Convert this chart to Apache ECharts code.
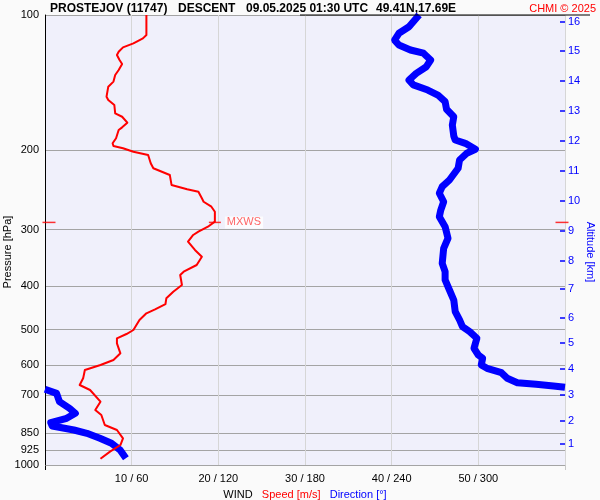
<!DOCTYPE html>
<html><head><meta charset="utf-8">
<script src="https://cdn.jsdelivr.net/npm/echarts@6/dist/echarts.min.js"></script>
<style>html,body{margin:0;padding:0;background:#fafafa}#c{width:600px;height:500px}</style>
</head><body><div id="c"></div>
<script>
const FONT = '"Liberation Sans", Arial, sans-serif';

// Axis ticks
const pressureTicks = [100, 200, 300, 400, 500, 600, 700, 850, 925, 1000];
const altitudeKm = [1, 2, 3, 4, 5, 6, 7, 8, 9, 10, 11, 12, 13, 14, 15, 16];
const altitudePressure = [898, 798, 699, 612, 536, 471, 406, 352, 302, 259, 222, 190.5, 163.4, 140.1, 120.2, 103.5];

// Wind speed profile [m/s] vs pressure [hPa]
const speedPressure = [100,110.8,112.7,115.6,118.0,120.7,122.7,125.9,128.5,132.5,135.9,140.6,144.3,151.9,154.5,158.5,165.4,168.3,173.5,177.7,180.1,187.9,192.8,195.5,197.8,201.3,204.7,213.6,219.1,226.7,238.6,243.9,247.0,255.5,260.0,266.7,273.6,287.9,295.4,303.0,308.2,318.9,332.8,344.4,359.4,371.9,378.3,398.1,412.0,426.2,438.8,450.8,460.1,476.1,501.2,511.6,522.9,536.5,564.7,584.3,599.5,615.0,641.8,664.1,681.3,723.2,754.6,774.3,814.9,836.0,872.4,902.8,934.1,968.3];
const speedValues = [11.7,11.7,11.3,10.2,9.0,8.5,8.3,8.6,8.9,8.5,8.1,7.9,7.3,7.1,7.3,8.0,8.1,8.9,9.5,8.9,8.5,8.2,7.8,7.9,9.0,10.2,11.9,12.2,12.5,14.4,14.6,16.4,17.7,18.1,18.3,19.2,19.6,19.6,18.8,17.7,17.1,16.5,17.3,18.1,17.5,16.0,15.6,15.8,14.8,14.0,13.9,12.7,11.7,10.9,10.2,9.4,8.3,8.3,8.7,7.9,6.4,4.6,4.4,4.0,5.2,6.4,5.8,6.5,6.9,8.3,9.0,8.7,7.5,6.4];

// Wind direction profile [deg] vs pressure [hPa]
const dirPressure = [100,102.6,106.2,109.8,113.7,116.6,119.6,121.6,125.9,130.3,134.8,139.5,143.0,146.8,150.6,155.8,162.0,168.3,175.6,185.7,189.6,192.8,198.8,202.9,210.0,219.1,232.6,240.7,248.9,260.0,271.3,280.7,295.4,313.4,329.9,356.3,371.9,388.0,408.4,429.9,456.3,476.1,492.8,505.5,522.9,550.5,569.6,579.3,599.5,609.7,623.6,641.8,656.4,661.8,667.5,672.0,678.9,693.0,723.2,748.2,767.6,787.5,805.4,819.1,836.0,850.4,872.4,894.9,926.0,966.3];
const dirValues = [259,256,252,245,242,245,253,262,267,264,257,252,255,265,272,277,278,283,282,283,284,291,298,292,287,286,280,275,273,276,274,273,277,279,276,275,277,277,280,283,284,287,289,294,299,297,300,303,302,306,316,320,327,340,352,360,0,8,10,17,21,15,4,5,20,29,38,46,52,56];

// Maximum wind
const mxwsSpeed = 19.6;
const mxwsPressure = 289;
const speedMax = 60;

const speedData = speedValues.map((v, i) => [v, speedPressure[i]]);
const dirData = [];
dirValues.forEach((v, i) => {
  if (i > 0 && Math.abs(v - dirValues[i - 1]) > 180) dirData.push([null, null]);
  dirData.push([v, dirPressure[i]]);
});

const chart = echarts.init(document.getElementById('c'), null, {renderer: 'canvas'});
chart.setOption({
  backgroundColor: '#fafafa',
  animation: false,
  textStyle: {fontFamily: FONT},
  grid: {left: 45, right: 35, top: 15, bottom: 35, show: true, backgroundColor: '#f0f0fb', borderWidth: 0,
         containLabel: false, outerBoundsMode: 'none'},
  xAxis: [{
    type: 'value', min: 0, max: speedMax, interval: 10,
    axisLine: {show: false, onZero: false}, axisTick: {show: false},
    splitLine: {show: true, lineStyle: {color: '#d6d6d6', width: 1}},
    axisLabel: {
      fontFamily: FONT, fontSize: 11, color: '#000', margin: 8,
      showMinLabel: false, showMaxLabel: false,
      formatter: v => (v === 0 || v === speedMax) ? '' : v + ' / ' + (v * 6)
    },
    name: '{a|WIND}   {b|Speed [m/s]}   {c|Direction [°]}',
    nameLocation: 'middle', nameGap: 24, nameMoveOverlap: false,
    nameTextStyle: {
      fontFamily: FONT, fontSize: 11,
      rich: {
        a: {color: '#000', fontFamily: FONT, fontSize: 11},
        b: {color: '#ff0000', fontFamily: FONT, fontSize: 11},
        c: {color: '#0000ff', fontFamily: FONT, fontSize: 11}
      }
    }
  }, {
    type: 'value', min: 0, max: speedMax * 6, show: false
  }],
  yAxis: [{
    type: 'log', logBase: 10, min: 100, max: 1000, inverse: true,
    axisLine: {show: true, onZero: false, lineStyle: {color: '#000', width: 1}},
    axisTick: {show: false, customValues: pressureTicks},
    axisLabel: {customValues: pressureTicks, fontFamily: FONT, fontSize: 11, color: '#000', margin: 6,
      formatter: v => String(Math.round(v))},
    splitLine: {show: true, lineStyle: {color: '#a4a4a4', width: 1}}
  }, {
    type: 'log', logBase: 10, min: 100, max: 1000, inverse: true, position: 'right',
    axisLine: {show: false, onZero: false},
    axisTick: {show: true, inside: true, length: 5, customValues: altitudePressure, lineStyle: {color: '#0000ff', width: 1.5}},
    axisLabel: {
      customValues: altitudePressure, fontFamily: FONT, fontSize: 11, color: '#0000ff', margin: 3,
      formatter: v => {
        let best = 0;
        altitudePressure.forEach((p, i) => { if (Math.abs(p - v) < Math.abs(altitudePressure[best] - v)) best = i; });
        return String(altitudeKm[best]);
      }
    },
    splitLine: {show: false}
  }],
  series: [{
    type: 'line', name: 'Direction', xAxisIndex: 1, yAxisIndex: 0,
    data: dirData, showSymbol: false, connectNulls: false, z: 2,
    lineStyle: {color: '#0000ff', width: 7, join: 'round'}
  }, {
    type: 'line', name: 'Speed', xAxisIndex: 0, yAxisIndex: 0,
    data: speedData, showSymbol: false, z: 3,
    lineStyle: {color: '#ff0000', width: 2, join: 'round'}
  }, {
    type: 'scatter', xAxisIndex: 0, yAxisIndex: 0, z: 4, clip: false, silent: true,
    data: [[mxwsSpeed, mxwsPressure]],
    symbol: 'rect', symbolSize: [12, 1.5], itemStyle: {color: '#ff0000'},
    label: {show: true, position: 'right', distance: 4, formatter: 'MXWS',
      fontFamily: FONT, fontSize: 11, color: '#ff4040', backgroundColor: '#ffffff', padding: [1, 2, 0, 2]}
  }, {
    type: 'scatter', xAxisIndex: 0, yAxisIndex: 0, z: 4, clip: false, silent: true,
    data: [[0, mxwsPressure]], symbol: 'rect', symbolSize: [13, 1.5], symbolOffset: [4, 0],
    itemStyle: {color: '#ff0000'}
  }, {
    type: 'scatter', xAxisIndex: 0, yAxisIndex: 0, z: 4, clip: false, silent: true,
    data: [[speedMax, mxwsPressure]], symbol: 'rect', symbolSize: [13, 1.5], symbolOffset: [-3, 0],
    itemStyle: {color: '#ff0000'}
  }],
  graphic: [
    {type: 'line', shape: {x1: 300, y1: 15, x2: 590, y2: 15}, style: {stroke: '#000', lineWidth: 1}, z: 10},
    {type: 'line', shape: {x1: 45.5, y1: 465, x2: 45.5, y2: 470}, style: {stroke: '#000', lineWidth: 1}},
    {type: 'line', shape: {x1: 565.5, y1: 465, x2: 565.5, y2: 470}, style: {stroke: '#c8c8c8', lineWidth: 1}},
    {type: 'text', x: 50, y: 3, style: {text: 'PROSTEJOV (11747)', font: 'bold 12px ' + FONT, fill: '#000'}},
    {type: 'text', x: 178, y: 3, style: {text: 'DESCENT', font: 'bold 12px ' + FONT, fill: '#000'}},
    {type: 'text', x: 246, y: 3, style: {text: '09.05.2025 01:30 UTC', font: 'bold 12px ' + FONT, fill: '#000'}},
    {type: 'text', x: 376, y: 3, style: {text: '49.41N,17.69E', font: 'bold 12px ' + FONT, fill: '#000'}},
    {type: 'text', right: 4, y: 3, style: {text: 'CHMI © 2025', font: '11px ' + FONT, fill: '#ff0000'}},
    {type: 'text', x: 8, y: 252, rotation: Math.PI / 2,
     style: {text: 'Pressure [hPa]', font: '11px ' + FONT, fill: '#000', align: 'center', verticalAlign: 'middle'}},
    {type: 'text', x: 590, y: 252, rotation: -Math.PI / 2,
     style: {text: 'Altitude [km]', font: '11px ' + FONT, fill: '#0000ff', align: 'center', verticalAlign: 'middle'}}
  ]
});
</script></body></html>
